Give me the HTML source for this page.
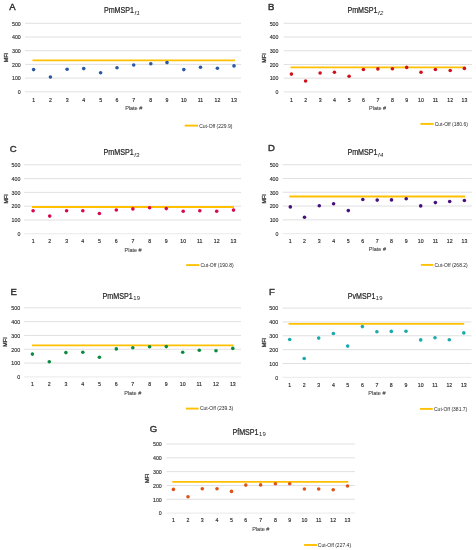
<!DOCTYPE html>
<html><head><meta charset="utf-8"><title>MFI plots</title>
<style>
html,body{margin:0;padding:0;background:#fff;}
body{width:476px;height:550px;overflow:hidden;}
svg{display:block;will-change:transform;filter:blur(0.3px);font-family:"Liberation Sans",sans-serif;}
.gr{stroke:#dcdcdc;stroke-width:0.9;}
.co{stroke:#ffc000;stroke-width:1.9;}
.yl{font-size:5.3px;fill:#2a2a2a;text-anchor:end;stroke:#2a2a2a;stroke-width:0.12;}
.xl{font-size:5.2px;fill:#2a2a2a;text-anchor:middle;stroke:#2a2a2a;stroke-width:0.15;}
.pl{font-size:5.5px;fill:#404040;text-anchor:middle;stroke:#404040;stroke-width:0.08;}
.mf{font-size:5.4px;fill:#2a2a2a;text-anchor:middle;stroke:#2a2a2a;stroke-width:0.25;}
.lt{font-size:9.5px;fill:#333;stroke:#333;stroke-width:0.45;}
.tt{font-size:8.6px;fill:#262626;stroke:#262626;stroke-width:0.22;}
.sb{font-size:5.9px;fill:#262626;letter-spacing:0.3px;}
.sbi{font-size:5.9px;fill:#262626;font-style:italic;letter-spacing:0.3px;}
.lg{font-size:5.0px;fill:#2a2a2a;}
</style></head>
<body>
<svg width="476" height="550" viewBox="0 0 476 550">
<rect width="476" height="550" fill="#fff"/>
<g><line x1="25" y1="91.8" x2="241.1" y2="91.8" class="gr"/>
<text x="20.8" y="94.05" class="yl">0</text>
<line x1="25" y1="78.1" x2="241.1" y2="78.1" class="gr"/>
<text x="20.8" y="80.35" class="yl">100</text>
<line x1="25" y1="64.4" x2="241.1" y2="64.4" class="gr"/>
<text x="20.8" y="66.65" class="yl">200</text>
<line x1="25" y1="50.7" x2="241.1" y2="50.7" class="gr"/>
<text x="20.8" y="52.95" class="yl">300</text>
<line x1="25" y1="37" x2="241.1" y2="37" class="gr"/>
<text x="20.8" y="39.25" class="yl">400</text>
<line x1="25" y1="23.3" x2="241.1" y2="23.3" class="gr"/>
<text x="20.8" y="25.55" class="yl">500</text>
<line x1="32.5" y1="60.4" x2="235" y2="60.4" class="co"/>
<circle cx="33.6" cy="69.6" r="1.8" fill="#2a58a4"/>
<circle cx="50.4" cy="77" r="1.8" fill="#2a58a4"/>
<circle cx="67.1" cy="69.3" r="1.8" fill="#2a58a4"/>
<circle cx="83.7" cy="68.6" r="1.8" fill="#2a58a4"/>
<circle cx="100.6" cy="72.8" r="1.8" fill="#2a58a4"/>
<circle cx="117" cy="67.7" r="1.8" fill="#2a58a4"/>
<circle cx="133.7" cy="65" r="1.8" fill="#2a58a4"/>
<circle cx="150.8" cy="63.8" r="1.8" fill="#2a58a4"/>
<circle cx="167" cy="62.6" r="1.8" fill="#2a58a4"/>
<circle cx="183.8" cy="69.6" r="1.8" fill="#2a58a4"/>
<circle cx="200.5" cy="67.2" r="1.8" fill="#2a58a4"/>
<circle cx="217.4" cy="68.2" r="1.8" fill="#2a58a4"/>
<circle cx="234" cy="65.9" r="1.8" fill="#2a58a4"/>
<text x="33.6" y="101.56" class="xl">1</text>
<text x="50.4" y="101.56" class="xl">2</text>
<text x="67.1" y="101.56" class="xl">3</text>
<text x="83.7" y="101.56" class="xl">4</text>
<text x="100.6" y="101.56" class="xl">5</text>
<text x="117" y="101.56" class="xl">6</text>
<text x="133.7" y="101.56" class="xl">7</text>
<text x="150.8" y="101.56" class="xl">8</text>
<text x="167" y="101.56" class="xl">9</text>
<text x="183.8" y="101.56" class="xl">10</text>
<text x="200.5" y="101.56" class="xl">11</text>
<text x="217.4" y="101.56" class="xl">12</text>
<text x="234" y="101.56" class="xl">13</text>
<text x="133.7" y="110.27" class="pl">Plate #</text>
<text transform="translate(6.5 57.6) rotate(-90)" x="0" y="1.93" class="mf">MFI</text>
<text x="9.3" y="9.95" class="lt">A</text>
<text x="103.9" y="13.4" class="tt" textLength="30.2" lengthAdjust="spacingAndGlyphs">PmMSP1</text>
<text x="134.5" y="15.4" class="sbi">f1</text>
<line x1="184.7" y1="125.6" x2="198" y2="125.6" class="co"/>
<text x="199.2" y="127.59" class="lg">Cut-Off (229.9)</text></g>
<g><line x1="283.7" y1="91.9" x2="472" y2="91.9" class="gr"/>
<text x="278.5" y="94.15" class="yl">0</text>
<line x1="283.7" y1="78.18" x2="472" y2="78.18" class="gr"/>
<text x="278.5" y="80.43" class="yl">100</text>
<line x1="283.7" y1="64.46" x2="472" y2="64.46" class="gr"/>
<text x="278.5" y="66.71" class="yl">200</text>
<line x1="283.7" y1="50.74" x2="472" y2="50.74" class="gr"/>
<text x="278.5" y="52.99" class="yl">300</text>
<line x1="283.7" y1="37.02" x2="472" y2="37.02" class="gr"/>
<text x="278.5" y="39.27" class="yl">400</text>
<line x1="283.7" y1="23.3" x2="472" y2="23.3" class="gr"/>
<text x="278.5" y="25.55" class="yl">500</text>
<line x1="290.5" y1="67.4" x2="465.5" y2="67.4" class="co"/>
<circle cx="291.4" cy="74.1" r="1.8" fill="#d0101a"/>
<circle cx="305.6" cy="81" r="1.8" fill="#d0101a"/>
<circle cx="320.1" cy="73" r="1.8" fill="#d0101a"/>
<circle cx="334.4" cy="72.2" r="1.8" fill="#d0101a"/>
<circle cx="349.1" cy="76.2" r="1.8" fill="#d0101a"/>
<circle cx="363.4" cy="69.5" r="1.8" fill="#d0101a"/>
<circle cx="377.9" cy="68.9" r="1.8" fill="#d0101a"/>
<circle cx="392.4" cy="68.8" r="1.8" fill="#d0101a"/>
<circle cx="406.7" cy="67.4" r="1.8" fill="#d0101a"/>
<circle cx="421" cy="72.2" r="1.8" fill="#d0101a"/>
<circle cx="435.4" cy="69.5" r="1.8" fill="#d0101a"/>
<circle cx="450.2" cy="70.5" r="1.8" fill="#d0101a"/>
<circle cx="464.4" cy="68.4" r="1.8" fill="#d0101a"/>
<text x="291.4" y="101.56" class="xl">1</text>
<text x="305.6" y="101.56" class="xl">2</text>
<text x="320.1" y="101.56" class="xl">3</text>
<text x="334.4" y="101.56" class="xl">4</text>
<text x="349.1" y="101.56" class="xl">5</text>
<text x="363.4" y="101.56" class="xl">6</text>
<text x="377.9" y="101.56" class="xl">7</text>
<text x="392.4" y="101.56" class="xl">8</text>
<text x="406.7" y="101.56" class="xl">9</text>
<text x="421" y="101.56" class="xl">10</text>
<text x="435.4" y="101.56" class="xl">11</text>
<text x="450.2" y="101.56" class="xl">12</text>
<text x="464.4" y="101.56" class="xl">13</text>
<text x="377.6" y="110.17" class="pl">Plate #</text>
<text transform="translate(264.5 58) rotate(-90)" x="0" y="1.93" class="mf">MFI</text>
<text x="267.9" y="9.85" class="lt">B</text>
<text x="347.4" y="13.4" class="tt" textLength="30.2" lengthAdjust="spacingAndGlyphs">PmMSP1</text>
<text x="378" y="15.4" class="sbi">f2</text>
<line x1="420.4" y1="123.9" x2="433.6" y2="123.9" class="co"/>
<text x="434.7" y="125.69" class="lg">Cut-Off (180.6)</text></g>
<g><line x1="24" y1="233.8" x2="241.1" y2="233.8" class="gr" style="stroke:#e6e6e6"/>
<text x="20.4" y="236.05" class="yl">0</text>
<line x1="24" y1="220" x2="241.1" y2="220" class="gr"/>
<text x="20.4" y="222.25" class="yl">100</text>
<line x1="24" y1="206.2" x2="241.1" y2="206.2" class="gr"/>
<text x="20.4" y="208.45" class="yl">200</text>
<line x1="24" y1="192.4" x2="241.1" y2="192.4" class="gr"/>
<text x="20.4" y="194.65" class="yl">300</text>
<line x1="24" y1="178.6" x2="241.1" y2="178.6" class="gr"/>
<text x="20.4" y="180.85" class="yl">400</text>
<line x1="24" y1="164.8" x2="241.1" y2="164.8" class="gr"/>
<text x="20.4" y="167.05" class="yl">500</text>
<line x1="32" y1="207" x2="234" y2="207" class="co"/>
<circle cx="33.1" cy="210.8" r="1.8" fill="#d6084f"/>
<circle cx="49.7" cy="216.1" r="1.8" fill="#d6084f"/>
<circle cx="66.6" cy="210.7" r="1.8" fill="#d6084f"/>
<circle cx="82.8" cy="210.7" r="1.8" fill="#d6084f"/>
<circle cx="99.4" cy="213.5" r="1.8" fill="#d6084f"/>
<circle cx="116.3" cy="210" r="1.8" fill="#d6084f"/>
<circle cx="132.9" cy="208.9" r="1.8" fill="#d6084f"/>
<circle cx="149.6" cy="207.7" r="1.8" fill="#d6084f"/>
<circle cx="166.3" cy="208.6" r="1.8" fill="#d6084f"/>
<circle cx="183.2" cy="211.2" r="1.8" fill="#d6084f"/>
<circle cx="199.8" cy="210.7" r="1.8" fill="#d6084f"/>
<circle cx="216.7" cy="211.2" r="1.8" fill="#d6084f"/>
<circle cx="233.5" cy="210.1" r="1.8" fill="#d6084f"/>
<text x="33.1" y="243.06" class="xl">1</text>
<text x="49.7" y="243.06" class="xl">2</text>
<text x="66.6" y="243.06" class="xl">3</text>
<text x="82.8" y="243.06" class="xl">4</text>
<text x="99.4" y="243.06" class="xl">5</text>
<text x="116.3" y="243.06" class="xl">6</text>
<text x="132.9" y="243.06" class="xl">7</text>
<text x="149.6" y="243.06" class="xl">8</text>
<text x="166.3" y="243.06" class="xl">9</text>
<text x="183.2" y="243.06" class="xl">10</text>
<text x="199.8" y="243.06" class="xl">11</text>
<text x="216.7" y="243.06" class="xl">12</text>
<text x="233.5" y="243.06" class="xl">13</text>
<text x="133.1" y="251.97" class="pl">Plate #</text>
<text transform="translate(6.3 198.9) rotate(-90)" x="0" y="1.93" class="mf">MFI</text>
<text x="9.8" y="151.55" class="lt">C</text>
<text x="103.6" y="154.7" class="tt" textLength="30.2" lengthAdjust="spacingAndGlyphs">PmMSP1</text>
<text x="134.2" y="156.7" class="sbi">f3</text>
<line x1="186.2" y1="265.1" x2="199.4" y2="265.1" class="co"/>
<text x="200.4" y="266.89" class="lg">Cut-Off (190.8)</text></g>
<g><line x1="282.6" y1="233.6" x2="471.9" y2="233.6" class="gr" style="stroke:#e6e6e6"/>
<text x="278.5" y="235.85" class="yl">0</text>
<line x1="282.6" y1="219.82" x2="471.9" y2="219.82" class="gr"/>
<text x="278.5" y="222.07" class="yl">100</text>
<line x1="282.6" y1="206.04" x2="471.9" y2="206.04" class="gr"/>
<text x="278.5" y="208.29" class="yl">200</text>
<line x1="282.6" y1="192.26" x2="471.9" y2="192.26" class="gr"/>
<text x="278.5" y="194.51" class="yl">300</text>
<line x1="282.6" y1="178.48" x2="471.9" y2="178.48" class="gr"/>
<text x="278.5" y="180.73" class="yl">400</text>
<line x1="282.6" y1="164.7" x2="471.9" y2="164.7" class="gr"/>
<text x="278.5" y="166.95" class="yl">500</text>
<line x1="289.3" y1="196.5" x2="465.2" y2="196.5" class="co"/>
<circle cx="290.3" cy="206.9" r="1.8" fill="#46107e"/>
<circle cx="304.5" cy="217.3" r="1.8" fill="#46107e"/>
<circle cx="319.3" cy="205.8" r="1.8" fill="#46107e"/>
<circle cx="333.6" cy="203.7" r="1.8" fill="#46107e"/>
<circle cx="348.3" cy="210.6" r="1.8" fill="#46107e"/>
<circle cx="362.8" cy="199.5" r="1.8" fill="#46107e"/>
<circle cx="377.2" cy="200.1" r="1.8" fill="#46107e"/>
<circle cx="391.5" cy="199.9" r="1.8" fill="#46107e"/>
<circle cx="406.2" cy="198.8" r="1.8" fill="#46107e"/>
<circle cx="420.7" cy="205.9" r="1.8" fill="#46107e"/>
<circle cx="435.4" cy="202.6" r="1.8" fill="#46107e"/>
<circle cx="449.7" cy="201.5" r="1.8" fill="#46107e"/>
<circle cx="464.4" cy="200.5" r="1.8" fill="#46107e"/>
<text x="290.3" y="242.86" class="xl">1</text>
<text x="304.5" y="242.86" class="xl">2</text>
<text x="319.3" y="242.86" class="xl">3</text>
<text x="333.6" y="242.86" class="xl">4</text>
<text x="348.3" y="242.86" class="xl">5</text>
<text x="362.8" y="242.86" class="xl">6</text>
<text x="377.2" y="242.86" class="xl">7</text>
<text x="391.5" y="242.86" class="xl">8</text>
<text x="406.2" y="242.86" class="xl">9</text>
<text x="420.7" y="242.86" class="xl">10</text>
<text x="435.4" y="242.86" class="xl">11</text>
<text x="449.7" y="242.86" class="xl">12</text>
<text x="464.4" y="242.86" class="xl">13</text>
<text x="377.4" y="251.27" class="pl">Plate #</text>
<text transform="translate(264.3 198.8) rotate(-90)" x="0" y="1.93" class="mf">MFI</text>
<text x="267.9" y="151.45" class="lt">D</text>
<text x="347.4" y="154.7" class="tt" textLength="30.2" lengthAdjust="spacingAndGlyphs">PmMSP1</text>
<text x="378" y="156.7" class="sbi">f4</text>
<line x1="420.9" y1="264.9" x2="433.4" y2="264.9" class="co"/>
<text x="434.5" y="266.69" class="lg">Cut-Off (268.2)</text></g>
<g><line x1="24.2" y1="376.9" x2="241" y2="376.9" class="gr" style="stroke:#e6e6e6"/>
<text x="20.1" y="379.15" class="yl">0</text>
<line x1="24.2" y1="363.08" x2="241" y2="363.08" class="gr"/>
<text x="20.1" y="365.33" class="yl">100</text>
<line x1="24.2" y1="349.26" x2="241" y2="349.26" class="gr"/>
<text x="20.1" y="351.51" class="yl">200</text>
<line x1="24.2" y1="335.44" x2="241" y2="335.44" class="gr"/>
<text x="20.1" y="337.69" class="yl">300</text>
<line x1="24.2" y1="321.62" x2="241" y2="321.62" class="gr"/>
<text x="20.1" y="323.87" class="yl">400</text>
<line x1="24.2" y1="307.8" x2="241" y2="307.8" class="gr"/>
<text x="20.1" y="310.05" class="yl">500</text>
<line x1="32" y1="345.4" x2="233.6" y2="345.4" class="co"/>
<circle cx="32.4" cy="354.1" r="1.8" fill="#0c8a40"/>
<circle cx="49.3" cy="361.8" r="1.8" fill="#0c8a40"/>
<circle cx="65.9" cy="352.6" r="1.8" fill="#0c8a40"/>
<circle cx="82.8" cy="352.3" r="1.8" fill="#0c8a40"/>
<circle cx="99.4" cy="357.2" r="1.8" fill="#0c8a40"/>
<circle cx="116.3" cy="348.9" r="1.8" fill="#0c8a40"/>
<circle cx="132.8" cy="347.7" r="1.8" fill="#0c8a40"/>
<circle cx="149.6" cy="346.8" r="1.8" fill="#0c8a40"/>
<circle cx="166.3" cy="346.6" r="1.8" fill="#0c8a40"/>
<circle cx="182.7" cy="352.3" r="1.8" fill="#0c8a40"/>
<circle cx="199.3" cy="350.3" r="1.8" fill="#0c8a40"/>
<circle cx="216" cy="350.8" r="1.8" fill="#0c8a40"/>
<circle cx="232.8" cy="348.4" r="1.8" fill="#0c8a40"/>
<text x="32.4" y="385.96" class="xl">1</text>
<text x="49.3" y="385.96" class="xl">2</text>
<text x="65.9" y="385.96" class="xl">3</text>
<text x="82.8" y="385.96" class="xl">4</text>
<text x="99.4" y="385.96" class="xl">5</text>
<text x="116.3" y="385.96" class="xl">6</text>
<text x="132.8" y="385.96" class="xl">7</text>
<text x="149.6" y="385.96" class="xl">8</text>
<text x="166.3" y="385.96" class="xl">9</text>
<text x="182.7" y="385.96" class="xl">10</text>
<text x="199.3" y="385.96" class="xl">11</text>
<text x="216" y="385.96" class="xl">12</text>
<text x="232.8" y="385.96" class="xl">13</text>
<text x="132.7" y="394.57" class="pl">Plate #</text>
<text transform="translate(5.4 342) rotate(-90)" x="0" y="1.93" class="mf">MFI</text>
<text x="10.6" y="295.25" class="lt">E</text>
<text x="102.6" y="298.6" class="tt" textLength="30.2" lengthAdjust="spacingAndGlyphs">PmMSP1</text>
<text x="133.2" y="300" class="sb">19</text>
<line x1="185.9" y1="408.6" x2="198.7" y2="408.6" class="co"/>
<text x="199.9" y="410.39" class="lg">Cut-Off (239.3)</text></g>
<g><line x1="282.5" y1="377.3" x2="471.5" y2="377.3" class="gr" style="stroke:#e6e6e6"/>
<text x="278.2" y="379.55" class="yl">0</text>
<line x1="282.5" y1="363.46" x2="471.5" y2="363.46" class="gr"/>
<text x="278.2" y="365.71" class="yl">100</text>
<line x1="282.5" y1="349.62" x2="471.5" y2="349.62" class="gr"/>
<text x="278.2" y="351.87" class="yl">200</text>
<line x1="282.5" y1="335.78" x2="471.5" y2="335.78" class="gr"/>
<text x="278.2" y="338.03" class="yl">300</text>
<line x1="282.5" y1="321.94" x2="471.5" y2="321.94" class="gr"/>
<text x="278.2" y="324.19" class="yl">400</text>
<line x1="282.5" y1="308.1" x2="471.5" y2="308.1" class="gr"/>
<text x="278.2" y="310.35" class="yl">500</text>
<line x1="288.5" y1="323.9" x2="464.2" y2="323.9" class="co"/>
<circle cx="289.7" cy="339.5" r="1.8" fill="#1aa9ad"/>
<circle cx="304.2" cy="358.5" r="1.8" fill="#1aa9ad"/>
<circle cx="318.7" cy="338.1" r="1.8" fill="#1aa9ad"/>
<circle cx="333.4" cy="333.5" r="1.8" fill="#1aa9ad"/>
<circle cx="347.7" cy="346.1" r="1.8" fill="#1aa9ad"/>
<circle cx="362.4" cy="326.6" r="1.8" fill="#1aa9ad"/>
<circle cx="376.9" cy="331.8" r="1.8" fill="#1aa9ad"/>
<circle cx="391.3" cy="331.4" r="1.8" fill="#1aa9ad"/>
<circle cx="406" cy="331.2" r="1.8" fill="#1aa9ad"/>
<circle cx="420.7" cy="339.9" r="1.8" fill="#1aa9ad"/>
<circle cx="435" cy="337.7" r="1.8" fill="#1aa9ad"/>
<circle cx="449.3" cy="339.8" r="1.8" fill="#1aa9ad"/>
<circle cx="463.8" cy="332.9" r="1.8" fill="#1aa9ad"/>
<text x="289.7" y="386.56" class="xl">1</text>
<text x="304.2" y="386.56" class="xl">2</text>
<text x="318.7" y="386.56" class="xl">3</text>
<text x="333.4" y="386.56" class="xl">4</text>
<text x="347.7" y="386.56" class="xl">5</text>
<text x="362.4" y="386.56" class="xl">6</text>
<text x="376.9" y="386.56" class="xl">7</text>
<text x="391.3" y="386.56" class="xl">8</text>
<text x="406" y="386.56" class="xl">9</text>
<text x="420.7" y="386.56" class="xl">10</text>
<text x="435" y="386.56" class="xl">11</text>
<text x="449.3" y="386.56" class="xl">12</text>
<text x="463.8" y="386.56" class="xl">13</text>
<text x="376.9" y="395.47" class="pl">Plate #</text>
<text transform="translate(263.9 342.6) rotate(-90)" x="0" y="1.93" class="mf">MFI</text>
<text x="269" y="295.25" class="lt">F</text>
<text x="347.7" y="298.8" class="tt" textLength="27.7" lengthAdjust="spacingAndGlyphs">PvMSP1</text>
<text x="375.8" y="300.2" class="sb">19</text>
<line x1="420.1" y1="408.9" x2="432.8" y2="408.9" class="co"/>
<text x="434" y="410.69" class="lg">Cut-Off (381.7)</text></g>
<g><line x1="166.5" y1="513.1" x2="354.9" y2="513.1" class="gr" style="stroke:#e6e6e6"/>
<text x="161.8" y="515.35" class="yl">0</text>
<line x1="166.5" y1="499.28" x2="354.9" y2="499.28" class="gr"/>
<text x="161.8" y="501.53" class="yl">100</text>
<line x1="166.5" y1="485.46" x2="354.9" y2="485.46" class="gr"/>
<text x="161.8" y="487.71" class="yl">200</text>
<line x1="166.5" y1="471.64" x2="354.9" y2="471.64" class="gr"/>
<text x="161.8" y="473.89" class="yl">300</text>
<line x1="166.5" y1="457.82" x2="354.9" y2="457.82" class="gr"/>
<text x="161.8" y="460.07" class="yl">400</text>
<line x1="166.5" y1="444" x2="354.9" y2="444" class="gr"/>
<text x="161.8" y="446.25" class="yl">500</text>
<line x1="172.3" y1="481.9" x2="348.3" y2="481.9" class="co"/>
<circle cx="173.4" cy="489.4" r="1.8" fill="#dc5418"/>
<circle cx="188" cy="496.7" r="1.8" fill="#dc5418"/>
<circle cx="202.3" cy="488.7" r="1.8" fill="#dc5418"/>
<circle cx="217" cy="488.7" r="1.8" fill="#dc5418"/>
<circle cx="231.5" cy="491.4" r="1.8" fill="#dc5418"/>
<circle cx="245.8" cy="485.1" r="1.8" fill="#dc5418"/>
<circle cx="260.6" cy="484.9" r="1.8" fill="#dc5418"/>
<circle cx="275.4" cy="483.8" r="1.8" fill="#dc5418"/>
<circle cx="289.7" cy="483.8" r="1.8" fill="#dc5418"/>
<circle cx="304.4" cy="489" r="1.8" fill="#dc5418"/>
<circle cx="318.7" cy="489" r="1.8" fill="#dc5418"/>
<circle cx="333.2" cy="489.7" r="1.8" fill="#dc5418"/>
<circle cx="347.5" cy="486" r="1.8" fill="#dc5418"/>
<text x="173.4" y="522.26" class="xl">1</text>
<text x="188" y="522.26" class="xl">2</text>
<text x="202.3" y="522.26" class="xl">3</text>
<text x="217" y="522.26" class="xl">4</text>
<text x="231.5" y="522.26" class="xl">5</text>
<text x="245.8" y="522.26" class="xl">6</text>
<text x="260.6" y="522.26" class="xl">7</text>
<text x="275.4" y="522.26" class="xl">8</text>
<text x="289.7" y="522.26" class="xl">9</text>
<text x="304.4" y="522.26" class="xl">10</text>
<text x="318.7" y="522.26" class="xl">11</text>
<text x="333.2" y="522.26" class="xl">12</text>
<text x="347.5" y="522.26" class="xl">13</text>
<text x="260.8" y="531.37" class="pl">Plate #</text>
<text transform="translate(147.3 478.3) rotate(-90)" x="0" y="1.93" class="mf">MFI</text>
<text x="149.8" y="431.85" class="lt">G</text>
<text x="232.4" y="434.5" class="tt" textLength="26.2" lengthAdjust="spacingAndGlyphs">PfMSP1</text>
<text x="259" y="435.9" class="sb">19</text>
<line x1="304.1" y1="545" x2="317.1" y2="545" class="co"/>
<text x="317.8" y="546.99" class="lg">Cut-Off (227.4)</text></g>
</svg>
</body></html>
